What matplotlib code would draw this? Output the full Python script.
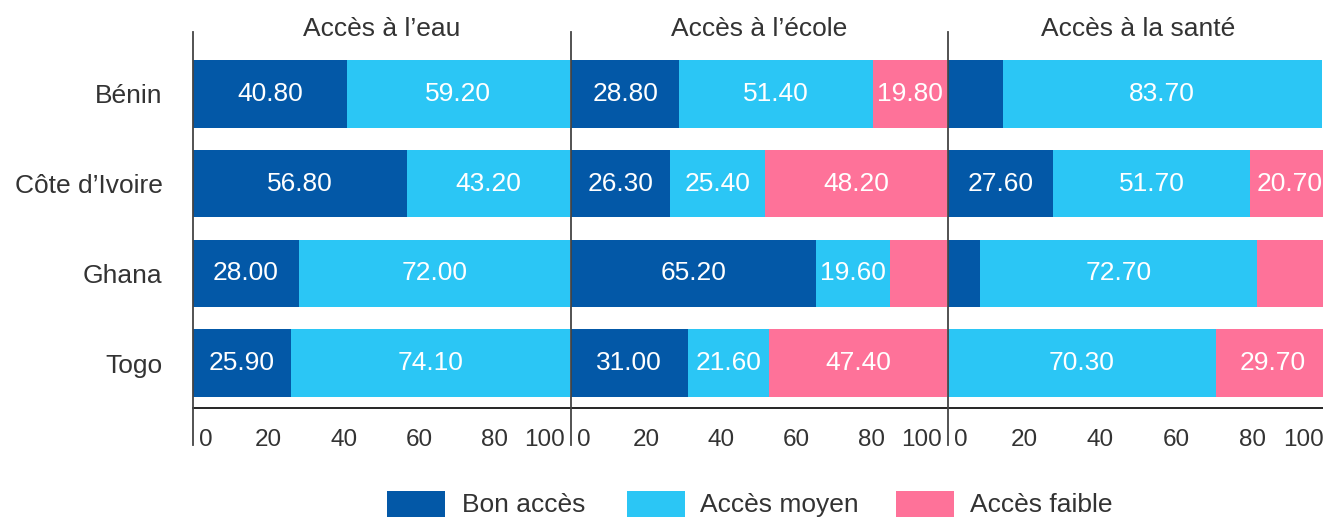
import numpy as np
import matplotlib.pyplot as plt
import matplotlib.transforms as mtransforms
from matplotlib.patches import Rectangle
from matplotlib.lines import Line2D

plt.rcParams['font.family'] = ['Liberation Sans', 'DejaVu Sans']

countries = ["Bénin", "Côte d’Ivoire", "Ghana", "Togo"]
panels = ["Accès à l’eau", "Accès à l’école", "Accès à la santé"]
series = ["Bon accès", "Accès moyen", "Accès faible"]
colors = ["#0358A7", "#2BC6F5", "#FE7299"]

# values per panel: [bon, moyen, faible] per country
eau_bon = [40.8, 56.8, 28.0, 25.9]
eau_moyen = [59.2, 43.2, 72.0, 74.1]
eau_faible = [0.0, 0.0, 0.0, 0.0]

ecole_bon = [28.8, 26.3, 65.2, 31.0]
ecole_moyen = [51.4, 25.4, 19.6, 21.6]
ecole_faible = [19.8, 48.2, 15.2, 47.4]

sante_bon = [14.4, 27.6, 8.5, 0.0]
sante_moyen = [83.7, 51.7, 72.7, 70.3]
sante_faible = [0.0, 20.7, 18.8, 29.7]

data = [
    [eau_bon, eau_moyen, eau_faible],
    [ecole_bon, ecole_moyen, ecole_faible],
    [sante_bon, sante_moyen, sante_faible],
]
# values too small to be labelled in the original
hidden = {(2, 0, 0), (1, 2, 2), (2, 2, 0), (2, 2, 2)}

W, H = 1323, 517
fig = plt.figure(figsize=(W / 100, H / 100), dpi=100)

TXT = "#333333"
panel_left = [193, 571, 948]
panel_w = [377, 376, 381]
top_px, bot_px = 49, 408

y = np.arange(len(countries))
for p, (left, title) in enumerate(zip(panel_left, panels)):
    ax = fig.add_axes([left / W, (H - bot_px) / H, panel_w[p] / W, (bot_px - top_px) / H])
    start = np.zeros(len(countries))
    for s in range(3):
        vals = np.array(data[p][s])
        ax.barh(y, vals, left=start, height=0.75, color=colors[s], linewidth=0)
        for i, v in enumerate(vals):
            if v > 0 and (p, i, s) not in hidden:
                ax.text(start[i] + v / 2, y[i], f"{v:.2f}", ha="center", va="center",
                        color="white", fontsize=19)
        start += vals
    ax.set_xlim(0, 100)
    ax.set_ylim(len(countries) - 0.5, -0.5)
    for sp in ["top", "right", "left"]:
        ax.spines[sp].set_visible(False)
    ax.spines["bottom"].set_color("black")
    ax.spines["bottom"].set_linewidth(1.2)
    ax.set_xticks([0, 20, 40, 60, 80, 100])
    ax.set_xticklabels(["0", "20", "40", "60", "80", "100"])
    ax.tick_params(axis="x", length=0, pad=15, labelsize=17.5, labelcolor=TXT)
    labs = ax.get_xticklabels()
    labs[0].set_ha("left")
    labs[0].set_transform(labs[0].get_transform() +
                          mtransforms.ScaledTranslation(6 / 100, 0, fig.dpi_scale_trans))
    labs[-1].set_ha("right")
    labs[-1].set_transform(labs[-1].get_transform() +
                           mtransforms.ScaledTranslation(-5 / 100, 0, fig.dpi_scale_trans))
    ax.set_title(title, fontsize=19, color=TXT, pad=9)
    if p == 0:
        ax.set_yticks(y)
        ax.set_yticklabels(countries)
        ax.tick_params(axis="y", length=0, pad=22, labelsize=19, labelcolor=TXT)
    else:
        ax.set_yticks([])
    # vertical separator line
    fig.add_artist(Line2D([left / W, left / W], [(H - 32) / H, (H - 445) / H],
                          color="#444444", linewidth=1.3))

# legend
leg_boxes = [387, 627, 896]
leg_text = [462, 700, 970]
for s in range(3):
    fig.add_artist(Rectangle((leg_boxes[s] / W, (H - 520) / H), 58 / W, 29 / H,
                             facecolor=colors[s], edgecolor="none"))
    fig.text(leg_text[s] / W, (H - 505) / H, series[s], fontsize=19, color=TXT,
             ha="left", va="center")

fig.savefig("out.png", dpi=100)
